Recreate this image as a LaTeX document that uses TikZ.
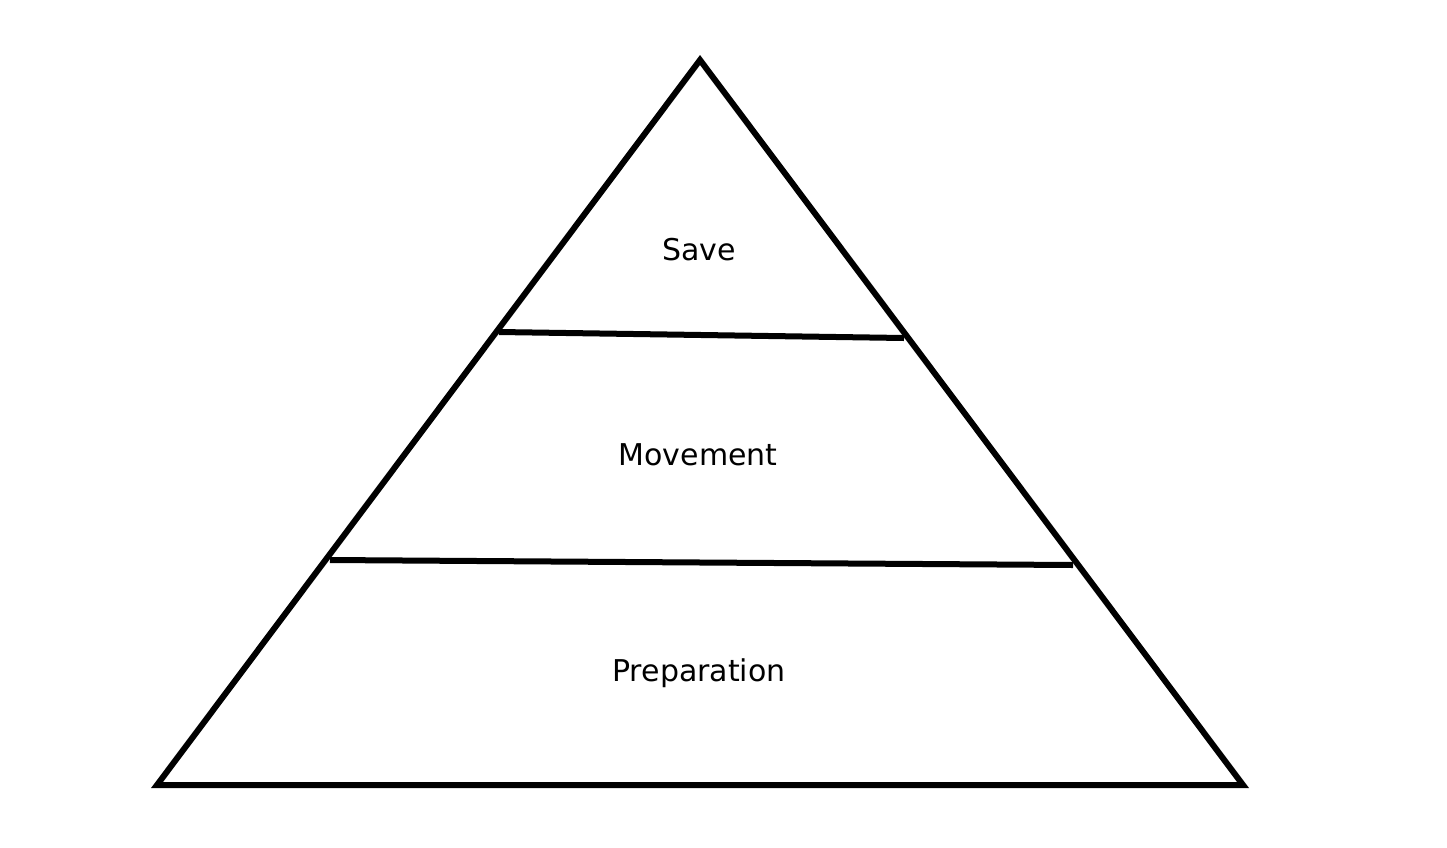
\documentclass[tikz,border=0pt]{standalone}
\usepackage{fontspec}
\setmainfont{DejaVu Sans}
\begin{document}
\begin{tikzpicture}[x=1pt,y=-1pt,line width=6pt,
  lbl/.style={font=\fontsize{30}{36}\selectfont,inner sep=0pt}]
\useasboundingbox (0,0) rectangle (1447,847);
\coordinate (apex) at (700,60);
\coordinate (bl) at (157,785);
\coordinate (br) at (1243,785);
\draw[line join=miter] (apex) -- (bl) -- (br) -- cycle;
\coordinate (a1) at (499,332);
\coordinate (b1) at (904,338);
\coordinate (a2) at (330,560);
\coordinate (b2) at (1073,565);
\draw (a1) -- (b1);
\draw (a2) -- (b2);
\node[lbl] (save) at (699,250) {Save};
\node[lbl] (move) at (698,455) {Movement};
\node[lbl] (prep) at (699,673) {Preparation};
\end{tikzpicture}
\end{document}
